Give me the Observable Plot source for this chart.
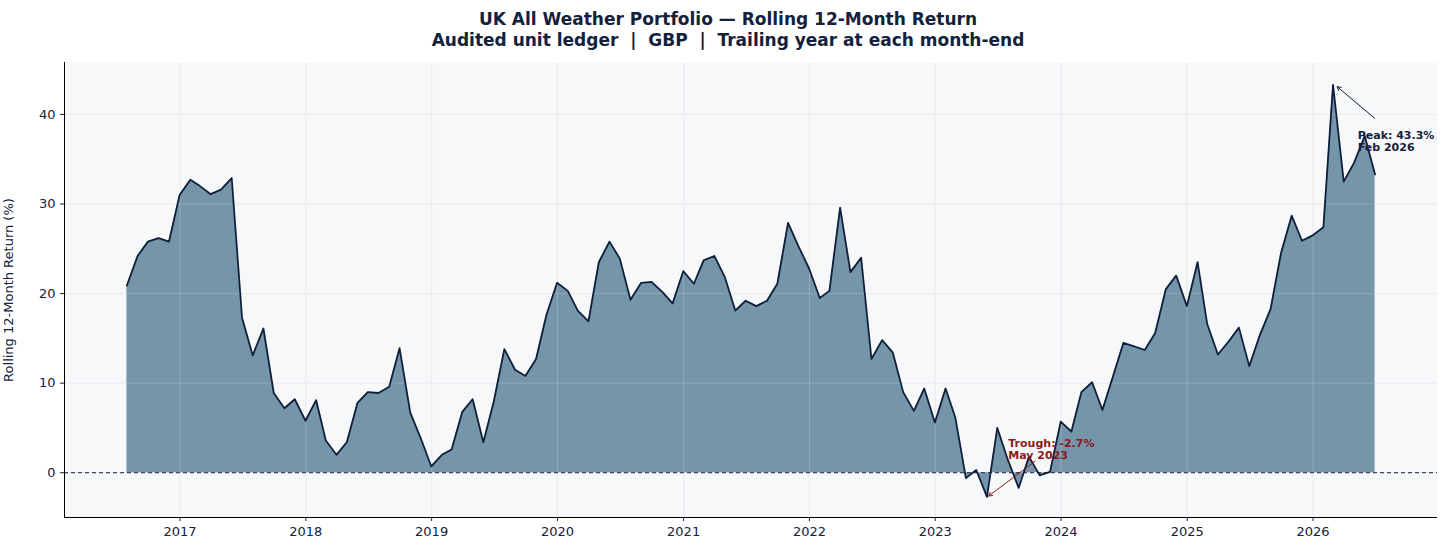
<!DOCTYPE html>
<html><head><meta charset="utf-8">
<script src="https://cdn.jsdelivr.net/npm/d3@7"></script>
<script src="https://cdn.jsdelivr.net/npm/@observablehq/plot@0.6"></script>
<style>
body{margin:0;background:#fff;font-family:"DejaVu Sans",sans-serif;}
#title{height:56px;text-align:center;font-weight:bold;font-size:17px;color:#13213d;line-height:21px;padding-top:9px;box-sizing:border-box;}
</style></head><body>
<div id="title">UK All Weather Portfolio — Rolling 12-Month Return<br>Audited unit ledger &nbsp;|&nbsp; GBP &nbsp;|&nbsp; Trailing year at each month-end</div>
<div id="chart"></div>
<script>
const startMonth = "2016-07";
const returns = [
20.9,24.2,25.8,26.2,25.8,31.0,
32.7,32.0,31.1,31.6,32.9,17.3,13.1,16.1,8.9,7.2,8.2,5.8,
8.1,3.6,2.0,3.4,7.8,9.0,8.9,9.6,13.9,6.7,3.9,0.7,
2.0,2.6,6.8,8.2,3.4,7.9,13.8,11.5,10.8,12.7,17.6,21.2,
20.3,18.1,16.9,23.5,25.8,23.9,19.3,21.2,21.3,20.2,18.9,22.5,
21.1,23.7,24.2,21.9,18.1,19.2,18.6,19.2,21.1,27.9,25.3,22.8,
19.5,20.3,29.6,22.4,24.0,12.7,14.8,13.4,9.0,6.9,9.4,5.6,
9.4,6.2,-0.6,0.3,-2.7,5.0,1.4,-1.7,1.8,-0.3,0.1,5.7,
4.6,9.0,10.1,7.0,10.8,14.5,14.1,13.7,15.6,20.5,22.0,18.6,
23.5,16.6,13.2,14.6,16.2,11.9,15.4,18.3,24.5,28.7,25.9,26.5,
27.4,43.3,32.5,34.6,37.6,33.3
];
const yTicks = [0,10,20,30,40];
const peakLabel = "Peak: 43.3%\nFeb 2026";
const troughLabel = "Trough: -2.7%\nMay 2023";

const [sy, sm] = startMonth.split("-").map(Number);
const data = returns.map((v,i)=>({date: new Date(Date.UTC(sy, sm-1+i+1, 0)), v}));
const peak = data.reduce((a,b)=>b.v>a.v?b:a);
const trough = data.reduce((a,b)=>b.v<a.v?b:a);
const first = data[0].date, last = data[data.length-1].date;
const span = last - first;
const xDom = [new Date(+first - span*0.05), new Date(+last + span*0.05)];
const day = 86400000;

const chart = Plot.plot({
  width:1456, height:499,
  marginLeft:64, marginRight:19, marginTop:6, marginBottom:38,
  style:{background:"#fff", fontFamily:"DejaVu Sans, sans-serif", fontSize:"13px", color:"#13213d"},
  x:{type:"utc", domain:xDom, ticks:d3.utcYear.every(1), tickFormat:d3.utcFormat("%Y"), label:null, tickSize:4},
  y:{domain:[-5,45.8], ticks:yTicks, label:"Rolling 12-Month Return (%)", labelAnchor:"center", labelArrow:"none", tickSize:4},
  marks:[
    Plot.frame({fill:"#f7f8fa", stroke:null}),
    Plot.gridX({ticks:d3.utcYear.every(1), stroke:"#d5d9e0", strokeOpacity:0.6}),
    Plot.gridY(yTicks, {stroke:"#d5d9e0", strokeOpacity:0.6}),
    Plot.areaY(data, {x:"date", y1:0, y2:"v", defined:d=>d.v>=0, fill:"#2e5f80", fillOpacity:0.65, curve:"linear"}),
    Plot.gridX({ticks:d3.utcYear.every(1), stroke:"#ffffff", strokeOpacity:0.25}),
    Plot.gridY(yTicks, {stroke:"#ffffff", strokeOpacity:0.25}),
    Plot.ruleY([0], {stroke:"#13213d", strokeDasharray:"4,3", strokeWidth:1}),
    Plot.lineY(data, {x:"date", y:"v", stroke:"#0f1f3a", strokeWidth:1.8}),
    Plot.ruleX([xDom[0]], {stroke:"#000", strokeWidth:1}),
    Plot.ruleY([-5], {stroke:"#000", strokeWidth:1}),
    Plot.arrow([peak], {x1:d=>new Date(+d.date+ 120*day), y1:d=>d.v-3.7, x2:d=>new Date(+d.date+12*day), y2:d=>d.v-0.2, stroke:"#0f1f3a", strokeWidth:1, headLength:6}),
    Plot.text([peak], {x:d=>new Date(+d.date+ 60*day), y:d=>d.v-6.3, text:()=>peakLabel, textAnchor:"start", dx:4, fontWeight:"bold", fontSize:11, fill:"#13213d", lineHeight:1.1}),
    Plot.arrow([trough], {x1:d=>new Date(+d.date+ 140*day), y1:d=>d.v+4.0, x2:d=>new Date(+d.date+5*day), y2:d=>d.v+0.1, stroke:"#8b1a1a", strokeWidth:1, headLength:6}),
    Plot.text([trough], {x:d=>new Date(+d.date+ 62*day), y:d=>d.v+5.3, text:()=>troughLabel, textAnchor:"start", fontWeight:"bold", fontSize:11, fill:"#8b1a1a", lineHeight:1.1})
  ]
});
document.getElementById("chart").appendChild(chart);
</script></body></html>
